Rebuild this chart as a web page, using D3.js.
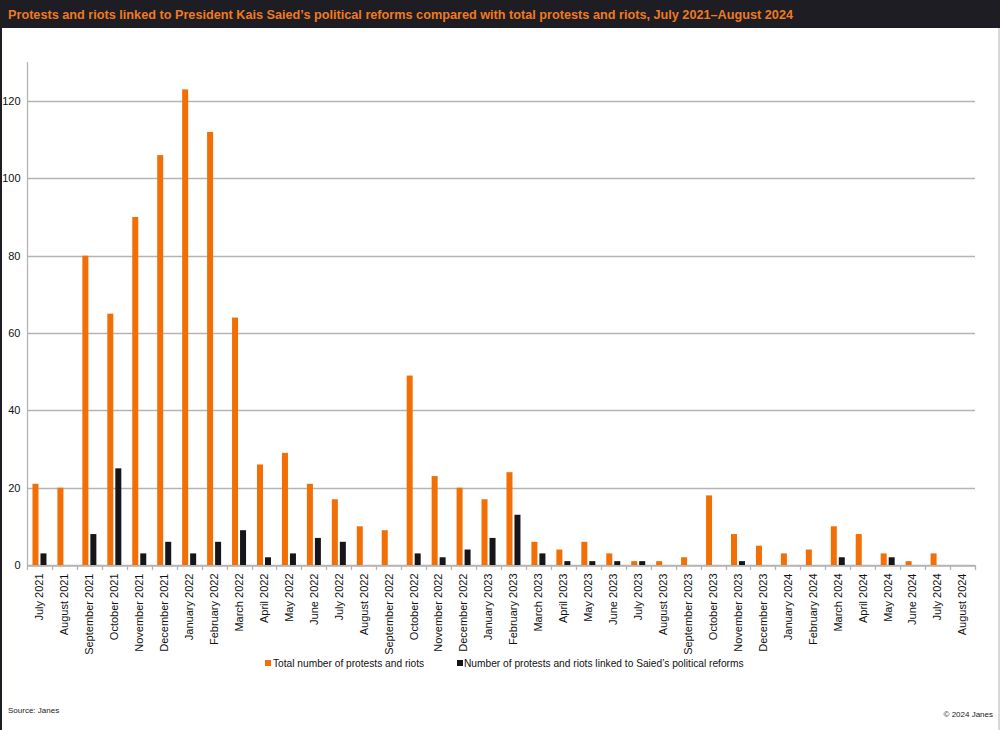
<!DOCTYPE html>
<html><head><meta charset="utf-8">
<script src="https://cdn.jsdelivr.net/npm/d3@7"></script>
<style>
html,body{margin:0;padding:0;background:#fff;}
svg{display:block;font-family:"Liberation Sans",Arial,sans-serif;}
</style></head>
<body>
<svg id="c" width="1000" height="730"></svg>
<script>
const months = ["July 2021","August 2021","September 2021","October 2021","November 2021","December 2021",
"January 2022","February 2022","March 2022","April 2022","May 2022","June 2022","July 2022","August 2022",
"September 2022","October 2022","November 2022","December 2022","January 2023","February 2023","March 2023",
"April 2023","May 2023","June 2023","July 2023","August 2023","September 2023","October 2023","November 2023",
"December 2023","January 2024","February 2024","March 2024","April 2024","May 2024","June 2024","July 2024","August 2024"];
const totalProtests = [21,20,80,65,90,106,123,112,64,26,29,21,17,10,9,49,23,20,17,24,6,4,6,3,1,1,2,18,8,5,3,4,10,8,3,1,3,0];
const linkedProtests = [3,0,8,25,3,6,3,6,9,2,3,7,6,0,0,3,2,4,7,13,3,1,1,1,1,0,0,0,1,0,0,0,2,0,2,0,0,0];
const yTicks = [0,20,40,60,80,100,120];
const seriesNames = ["Total number of protests and riots","Number of protests and riots linked to Saied\u2019s political reforms"];
const titleText = "Protests and riots linked to President Kais Saied\u2019s political reforms compared with total protests and riots, July 2021\u2013August 2024";

(function(){
const svg = d3.select("#c");
const orange = "#f26f05", black = "#16161a", grid = "#b4b4b4";

svg.append("rect").attr("x",0).attr("y",0).attr("width",1000).attr("height",730).attr("fill","#fff");
svg.append("rect").attr("x",0).attr("y",0).attr("width",1000).attr("height",28).attr("fill","#1d1d23");
svg.append("rect").attr("x",0).attr("y",0).attr("width",2).attr("height",730).attr("fill","#1d1d23");
svg.append("rect").attr("x",998).attr("y",28).attr("width",2).attr("height",702).attr("fill","#d8d8d8");
svg.append("text").attr("x",8).attr("y",19).attr("fill","#f07a1c").attr("font-weight","bold")
  .attr("font-size",12.5).attr("textLength",785).attr("lengthAdjust","spacingAndGlyphs").text(titleText);

const mLeft = 27, mRight = 975, mBottom = 565;
const x = d3.scaleBand().domain(months).range([mLeft,mRight]).padding(0);
const y = d3.scaleLinear().domain([0,130]).range([mBottom, mBottom - 130*(mBottom-101)/120]);

svg.append("g").selectAll("line").data(yTicks).join("line")
  .attr("x1",mLeft).attr("x2",mRight).attr("y1",d=>Math.round(y(d))+0.5).attr("y2",d=>Math.round(y(d))+0.5)
  .attr("stroke",grid).attr("stroke-width",1.3);

const yAxis = d3.axisLeft(y).tickValues(yTicks).tickSize(0).tickPadding(7);
const gy = svg.append("g").attr("transform",`translate(${mLeft+0.5},0)`).call(yAxis);
gy.select(".domain").attr("stroke",grid).attr("stroke-width",1.3).attr("d",`M0,${Math.round(y(130))}V${mBottom+0.5}`);
gy.selectAll(".tick text").attr("font-size",11).attr("fill","#111").attr("font-family","Liberation Sans, Arial");

const bw = 6;
svg.append("g").selectAll("rect").data(totalProtests).join("rect")
  .attr("x",(d,i)=>x(months[i])+x.bandwidth()/2-7).attr("width",bw)
  .attr("y",d=>y(d)).attr("height",d=>y(0)-y(d)).attr("fill",orange);
svg.append("g").selectAll("rect").data(linkedProtests).join("rect")
  .attr("x",(d,i)=>x(months[i])+x.bandwidth()/2+1).attr("width",bw)
  .attr("y",d=>y(d)).attr("height",d=>y(0)-y(d)).attr("fill",black);

const xAxis = d3.axisBottom(x).tickSize(0).tickPadding(0);
const gx = svg.append("g").attr("transform",`translate(0,${mBottom+0.5})`).call(xAxis);
gx.select(".domain").attr("stroke",grid).attr("stroke-width",1.3);
gx.selectAll(".tick text").attr("font-size",11).attr("fill","#111").attr("font-family","Liberation Sans, Arial")
  .attr("transform","rotate(-90)").attr("text-anchor","end").attr("dy","0.35em").attr("x",-8).attr("y",0);
svg.append("g").selectAll("line").data(d3.range(months.length+1)).join("line")
  .attr("x1",i=>Math.round(mLeft + i*x.step())+0.5).attr("x2",i=>Math.round(mLeft + i*x.step())+0.5)
  .attr("y1",mBottom).attr("y2",mBottom+5).attr("stroke",grid).attr("stroke-width",1.3);

const lg = svg.append("g").attr("font-size",10.2).attr("fill","#111");
lg.append("rect").attr("x",265).attr("y",660).attr("width",6).attr("height",6).attr("fill",orange);
lg.append("text").attr("x",273).attr("y",666.5).text(seriesNames[0]);
lg.append("rect").attr("x",457).attr("y",660).attr("width",6).attr("height",6).attr("fill",black);
lg.append("text").attr("x",464).attr("y",666.5).text(seriesNames[1]);

svg.append("text").attr("x",8).attr("y",713).attr("font-size",8).attr("fill","#222").text("Source: Janes");
svg.append("text").attr("x",993).attr("y",717).attr("font-size",8).attr("fill","#222").attr("text-anchor","end").text("\u00a9 2024 Janes");
})();
</script>
</body></html>
